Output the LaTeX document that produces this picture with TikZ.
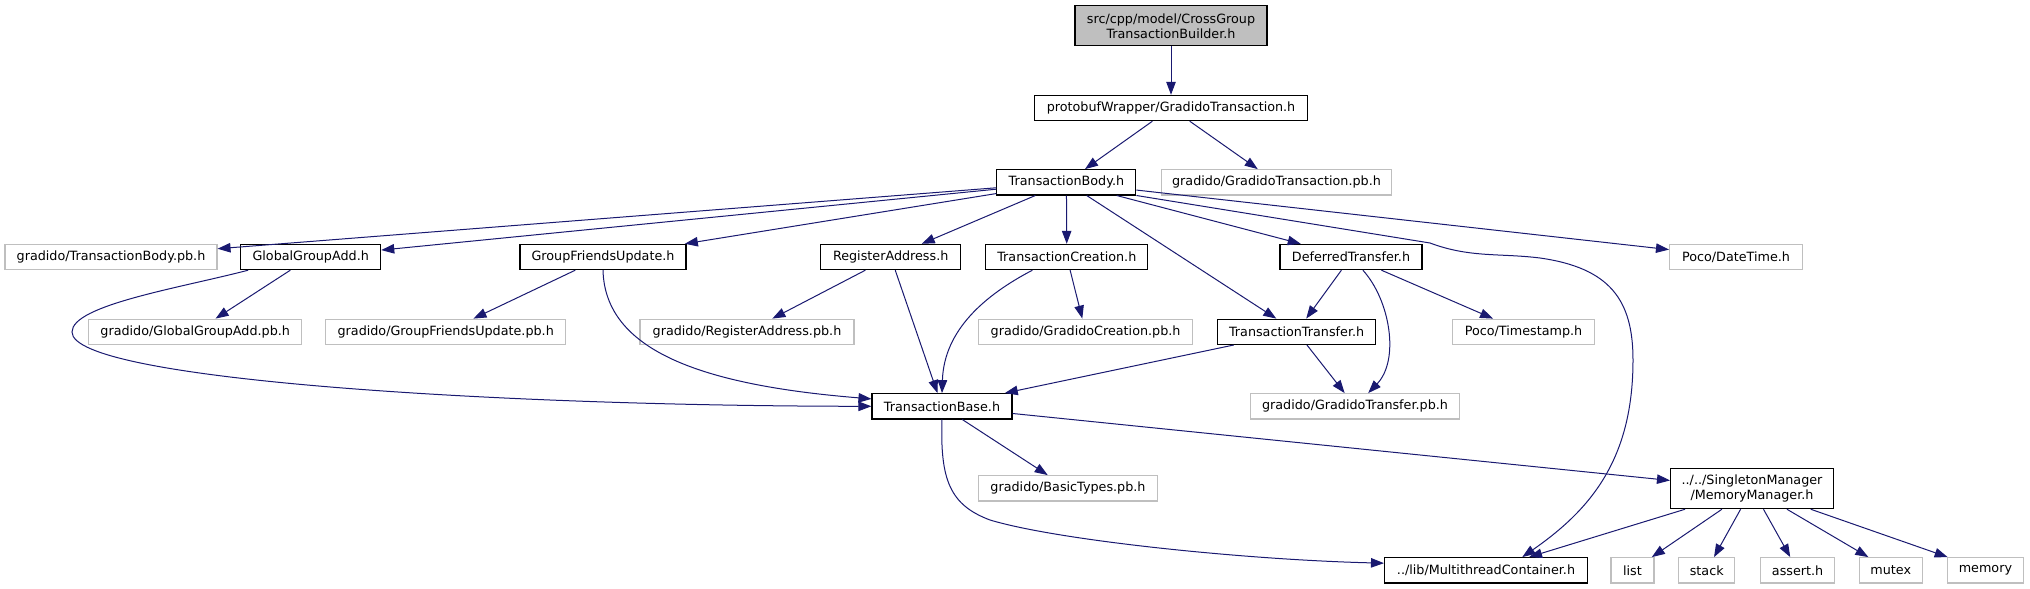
\documentclass[tikz,border=0pt]{standalone}
\usepackage{fontspec}
\setmainfont{DejaVu Sans}
\usetikzlibrary{arrows.meta}
\definecolor{edgeblue}{HTML}{191970}
\definecolor{boxgray}{HTML}{BFBFBF}

\begin{document}
\begin{tikzpicture}[x=1pt, y=-1pt,
  font=\fontsize{12.75}{15}\selectfont,
  file/.style={draw=black, line width=1.1pt, fill=white, inner sep=0pt,
               minimum height=25.3pt, align=center},
  sysfile/.style={file, draw=boxgray},
  root/.style={file, fill=boxgray, minimum height=40pt},
  dep/.style={-{Triangle[length=13pt, width=9.5pt, fill=edgeblue]}, line width=1pt,
              draw=edgeblue},
]
\useasboundingbox (0,0) rectangle (2030,589);

% Root file
\node[root, minimum width=192pt] (root) at (1171, 25.8) {src/cpp/model/CrossGroup\\TransactionBuilder.h};
\node[file, minimum width=273pt] (pbw) at (1171, 108) {protobufWrapper/GradidoTransaction.h};

% Second level
\node[file, minimum width=139pt] (body) at (1066.4, 182.3) {TransactionBody.h};
\node[sysfile, minimum width=230pt] (gtpb) at (1276.5, 182.3) {gradido/GradidoTransaction.pb.h};

% Third level
\node[sysfile, minimum width=212pt] (bodypb) at (111, 257) {gradido/TransactionBody.pb.h};
\node[file, minimum width=140pt] (gga) at (310.7, 257) {GlobalGroupAdd.h};
\node[file, minimum width=166pt] (gfu) at (603, 257) {GroupFriendsUpdate.h};
\node[file, minimum width=140pt] (regaddr) at (890.7, 257) {RegisterAddress.h};
\node[file, minimum width=162pt] (create) at (1066.8, 257) {TransactionCreation.h};
\node[file, minimum width=142pt] (deferred) at (1351, 257) {DeferredTransfer.h};
\node[sysfile, minimum width=133pt] (datetime) at (1736, 257) {Poco/DateTime.h};

% Fourth level
\node[sysfile, minimum width=213pt] (ggapb) at (195.2, 331.8) {gradido/GlobalGroupAdd.pb.h};
\node[sysfile, minimum width=240pt] (gfupb) at (445.7, 331.8) {gradido/GroupFriendsUpdate.pb.h};
\node[sysfile, minimum width=214pt] (regpb) at (747, 331.8) {gradido/RegisterAddress.pb.h};
\node[sysfile, minimum width=214pt] (createpb) at (1085.6, 331.8) {gradido/GradidoCreation.pb.h};
\node[file, minimum width=158pt] (transfer) at (1296.6, 331.8) {TransactionTransfer.h};
\node[sysfile, minimum width=142pt] (stamp) at (1523.5, 331.8) {Poco/Timestamp.h};

% Fifth level
\node[file, minimum width=140pt] (base) at (942, 406.3) {TransactionBase.h};
\node[sysfile, minimum width=209pt] (transferpb) at (1355, 406.3) {gradido/GradidoTransfer.pb.h};
\node[sysfile, minimum width=179pt] (basicpb) at (1068, 488.3) {gradido/BasicTypes.pb.h};
\node[file, minimum width=163pt, minimum height=40pt] (memmgr) at (1752, 488.7) {../../SingletonManager\\/MemoryManager.h};

% Bottom row
\node[file, minimum width=203pt] (mtc) at (1486, 570.3) {../lib/MultithreadContainer.h};
\node[sysfile, minimum width=43pt] (list) at (1632.5, 570.3) {list};
\node[sysfile, minimum width=56pt] (stack) at (1706.7, 570.3) {stack};
\node[sysfile, minimum width=74pt] (assert) at (1797.6, 570.3) {assert.h};
\node[sysfile, minimum width=63.5pt] (mutex) at (1890.8, 570.3) {mutex};
\node[sysfile, minimum width=76pt] (memory) at (1985.4, 570.3) {memory};

% Straight includes
\draw[dep] (root) -- (pbw);
\draw[dep] (pbw) -- (body);
\draw[dep] (pbw) -- (gtpb);
\foreach \t in {bodypb, gga, gfu, regaddr, create, transfer, deferred, datetime}
  \draw[dep] (body) -- (\t);
\draw[dep] (gga) -- (ggapb);
\draw[dep] (gfu) -- (gfupb);
\draw[dep] (regaddr) -- (regpb);
\draw[dep] (regaddr) -- (base);
\draw[dep] (create) -- (createpb);
\draw[dep] (deferred) -- (transfer);
\draw[dep] (deferred) -- (stamp);
\draw[dep] (transfer) -- (base);
\draw[dep] (transfer) -- (transferpb);
\draw[dep] (base) -- (basicpb);
\draw[dep] (base) -- (memmgr);
\foreach \t in {mtc, list, stack, assert, mutex, memory}
  \draw[dep] (memmgr) -- (\t);

% Curved includes
\draw[dep] (body.south east) -- (1430,243)
  .. controls (1470,258) and (1500,253) .. (1540,258)
  .. controls (1610,268) and (1633,300) .. (1633,360)
  .. controls (1633,460) and (1590,510) .. (mtc.20);
\draw[dep] ([xshift=8pt]gga.south west) .. controls (180,288) and (72,305) .. (72,332)
  .. controls (72,380) and (500,406) .. (base.west);
\draw[dep] (gfu.south) .. controls (605,350) and (700,385) .. (base.174);
\draw[dep] (create.201) .. controls (985,295) and (944,330) .. (base.north);
\draw[dep] (deferred.-48) .. controls (1390,300) and (1400,360) .. (transferpb.45);
\draw[dep] (base.south) .. controls (940,480) and (950,505) .. (990,520)
  .. controls (1060,541) and (1250,560) .. (mtc.176);

\end{tikzpicture}
\end{document}
